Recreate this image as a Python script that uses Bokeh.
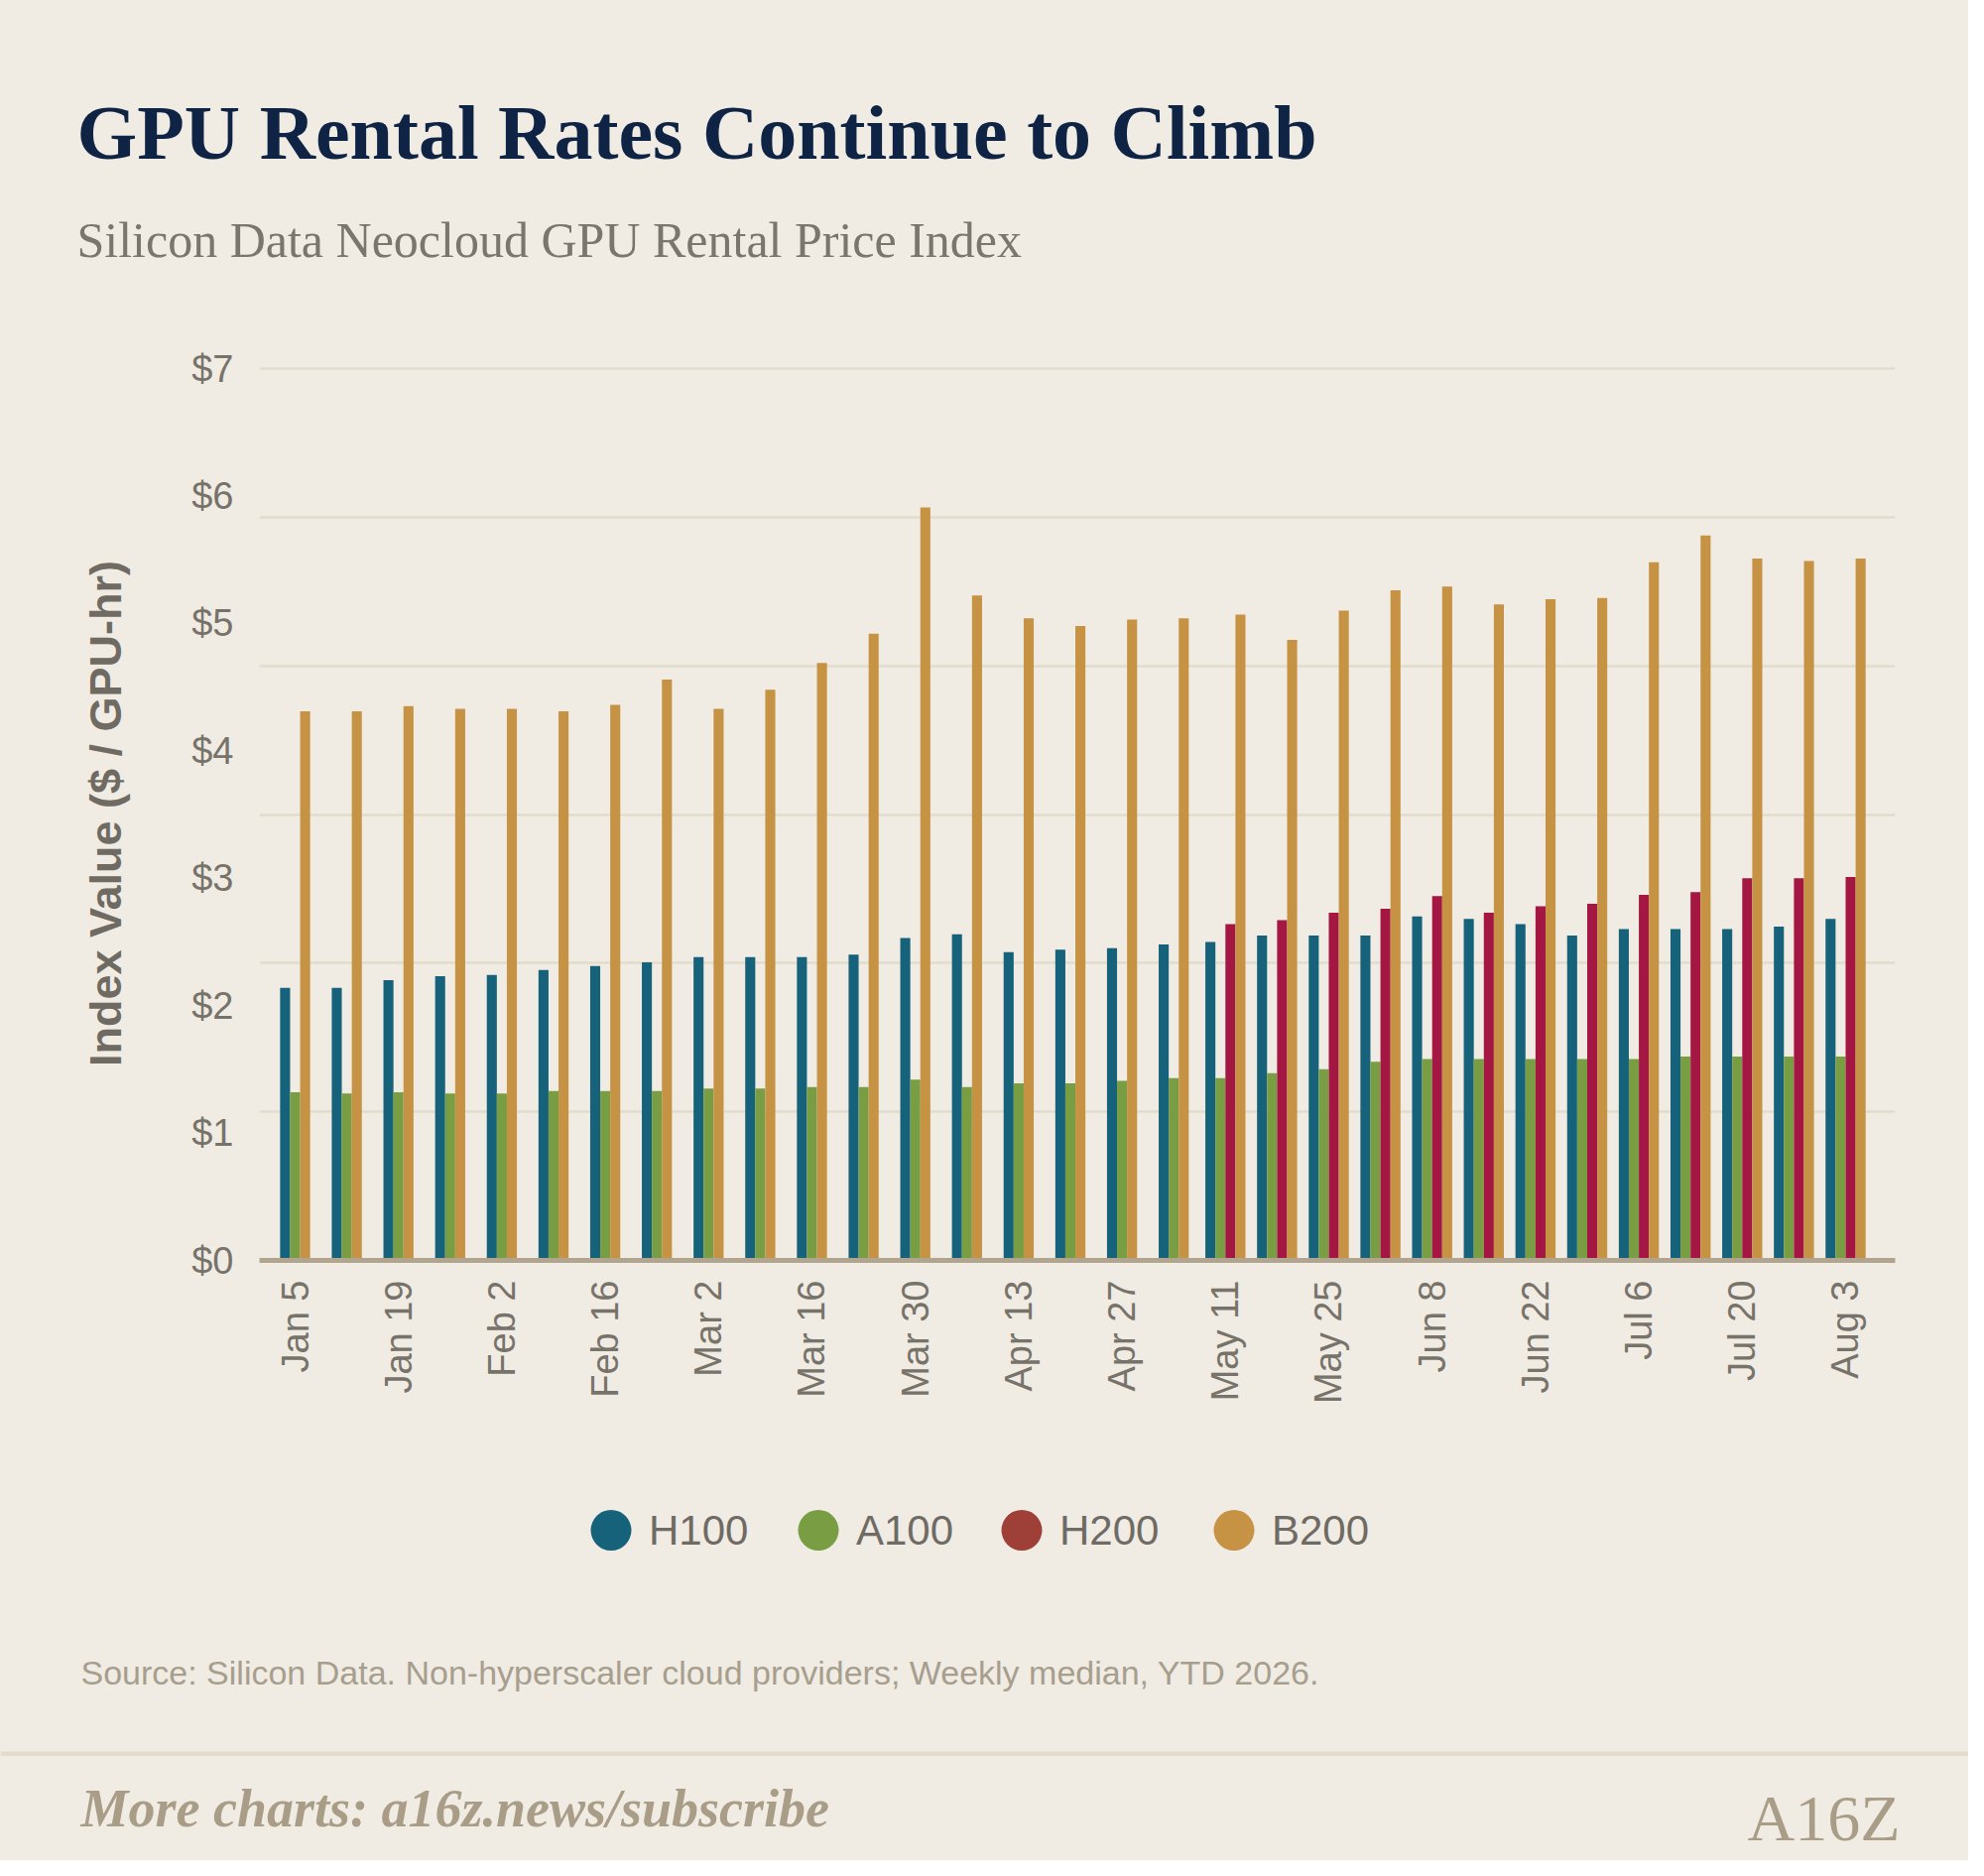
import math
from bokeh.plotting import figure
from bokeh.layouts import column
from bokeh.models import Range1d, FixedTicker, Span
from bokeh.core.properties import value
from bokeh.embed import file_html
from bokeh.resources import INLINE

# Weekly median index values ($ / GPU-hr), YTD 2026
weeks = ["Jan 5", "Jan 12", "Jan 19", "Jan 26", "Feb 2", "Feb 9", "Feb 16", "Feb 23",
         "Mar 2", "Mar 9", "Mar 16", "Mar 23", "Mar 30", "Apr 6", "Apr 13", "Apr 20",
         "Apr 27", "May 4", "May 11", "May 18", "May 25", "Jun 1", "Jun 8", "Jun 15",
         "Jun 22", "Jun 29", "Jul 6", "Jul 13", "Jul 20", "Jul 27", "Aug 3"]
h100 = [2.14, 2.14, 2.20, 2.23, 2.24, 2.28, 2.31, 2.34, 2.38, 2.38, 2.38, 2.40, 2.53, 2.56,
        2.42, 2.44, 2.45, 2.48, 2.50, 2.55, 2.55, 2.55, 2.70, 2.68, 2.64, 2.55, 2.60, 2.60,
        2.60, 2.62, 2.68]
a100 = [1.32, 1.31, 1.32, 1.31, 1.31, 1.33, 1.33, 1.33, 1.35, 1.35, 1.36, 1.36, 1.42, 1.36,
        1.39, 1.39, 1.41, 1.43, 1.43, 1.47, 1.50, 1.56, 1.58, 1.58, 1.58, 1.58, 1.58, 1.60,
        1.60, 1.60, 1.60]
h200 = [None] * 18 + [2.64, 2.67, 2.73, 2.76, 2.86, 2.73, 2.78, 2.80, 2.87, 2.89, 3.00,
                      3.00, 3.01]
b200 = [4.31, 4.31, 4.35, 4.33, 4.33, 4.31, 4.36, 4.56, 4.33, 4.48, 4.69, 4.92, 5.91, 5.22,
        5.04, 4.98, 5.03, 5.04, 5.07, 4.87, 5.10, 5.26, 5.29, 5.15, 5.19, 5.20, 5.48, 5.69,
        5.51, 5.49, 5.51]
y_ticks = [0, 1, 2, 3, 4, 5, 6, 7]

series_names = ["H100", "A100", "H200", "B200"]
series_values = [h100, a100, h200, b200]
bar_colors = ["#16627a", "#789d42", "#a31742", "#c69244"]
legend_colors = ["#16627a", "#789d42", "#9e3f38", "#c69244"]

BG = "#f0ece4"
FOOT_BG = "#f6f4ef"
W = 1984
SANS = value("Liberation Sans")
SERIF = value("Liberation Serif")


def canvas(height, y_top, y_bottom, fill):
    # blank figure whose data units are page pixels
    c = figure(width=W, height=height, x_range=Range1d(8, 8 + W), y_range=Range1d(y_bottom, y_top),
               min_border=0, toolbar_location=None, output_backend="svg",
               x_axis_location=None, y_axis_location=None, frame_align=False,
               background_fill_color=None, border_fill_color=fill, outline_line_color=None)
    c.grid.visible = False
    return c


# Title block
top = canvas(332, 8, 340, BG)
top.text(x=[85], y=[141], text=["GPU Rental Rates Continue to Climb"], text_font=SERIF,
         text_font_style="bold", text_font_size="78px", text_color="#0f2444",
         text_baseline="alphabetic")
top.text(x=[85], y=[249], text=["Silicon Data Neocloud GPU Rental Price Index"], text_font=SERIF,
         text_font_size="50px", text_color="#7a766e", text_baseline="alphabetic")

# Main bar chart (frame: x 269..1918, $0 at y 1278, $7 at y 379)
p = figure(width=W, height=1140, x_range=Range1d(-0.691, 30.96), y_range=Range1d(0, 7.016),
           min_border_left=261, min_border_right=74, min_border_top=37, min_border_bottom=202,
           toolbar_location=None, output_backend="svg", frame_align=False,
           background_fill_color=None, border_fill_color=BG, outline_line_color=None)

bw = 0.194
for s, (vals, color) in enumerate(zip(series_values, bar_colors)):
    xs, tops = [], []
    for i, v in enumerate(vals):
        if v is None:
            continue
        present = [sv[i] is not None for sv in series_values]
        n = sum(present)
        k = sum(present[:s])
        xs.append(i + (k - (n - 1) / 2) * bw)
        tops.append(v)
    p.vbar(x=xs, top=tops, bottom=0, width=bw, fill_color=color, line_color=None)

# grid lines run at six equal steps up to $7, independent of the $1 labels
p.xgrid.visible = False
p.ygrid.ticker = FixedTicker(ticks=[round(7 / 6 * k, 6) for k in range(1, 7)])
p.ygrid.grid_line_color = "#e2dccb"
p.ygrid.grid_line_width = 2.5

p.xaxis.ticker = FixedTicker(ticks=list(range(0, len(weeks), 2)))
p.xaxis.major_label_overrides = {i: weeks[i] for i in range(0, len(weeks), 2)}
p.xaxis.major_label_orientation = math.pi / 2
p.xaxis.axis_line_color = "#b1a590"
p.xaxis.axis_line_width = 5
p.xaxis.major_label_standoff = 14

p.yaxis.ticker = FixedTicker(ticks=y_ticks)
p.yaxis.major_label_overrides = {t: f"${t}" for t in y_ticks}
p.yaxis.axis_line_color = None
p.yaxis.major_label_standoff = 20
p.yaxis.axis_label = "Index Value ($ / GPU-hr)"
p.yaxis.axis_label_text_font = "Liberation Sans"
p.yaxis.axis_label_text_font_style = "bold"
p.yaxis.axis_label_text_font_size = "45px"
p.yaxis.axis_label_text_color = "#6f6b63"
p.yaxis.axis_label_standoff = 58

for ax in (p.xaxis, p.yaxis):
    ax.major_tick_line_color = None
    ax.minor_tick_line_color = None
    ax.major_label_text_font = "Liberation Sans"
    ax.major_label_text_font_size = "38px"
    ax.major_label_text_color = "#77736a"

# Legend and source
mid = canvas(293, 1480, 1773, BG)
legend_x = [623.5, 832.5, 1037.5, 1251.5]
mid.scatter(x=legend_x, y=[1550] * 4, size=41, fill_color=legend_colors, line_color=None)
mid.text(x=[x + 38 for x in legend_x], y=[1550] * 4, text=series_names, text_font=SANS,
         text_font_size="42px", text_color="#6f6b64", text_baseline="middle")
mid.text(x=[89], y=[1693],
         text=["Source: Silicon Data. Non-hyperscaler cloud providers; Weekly median, YTD 2026."],
         text_font=SANS, text_font_size="34px", text_color="#a89e8e", text_baseline="alphabetic")

# Footer band
foot = canvas(110, 1773, 1883, FOOT_BG)
foot.add_layout(Span(location=1775, dimension="width", line_color="#e4dccb", line_width=5))
foot.text(x=[89], y=[1830], text=["More charts: a16z.news/subscribe"], text_font=SERIF,
          text_font_style="bold italic", text_font_size="54px", text_color="#a99d87",
          text_baseline="alphabetic")
foot.text(x=[1923], y=[1840], text=["A16Z"], text_font=SERIF, text_font_size="66px",
          text_color="#a99d87", text_align="right", text_baseline="alphabetic")

layout = column(top, p, mid, foot)
layout.styles = {"background-color": BG}
open("out.html", "w").write(file_html(layout, INLINE))
